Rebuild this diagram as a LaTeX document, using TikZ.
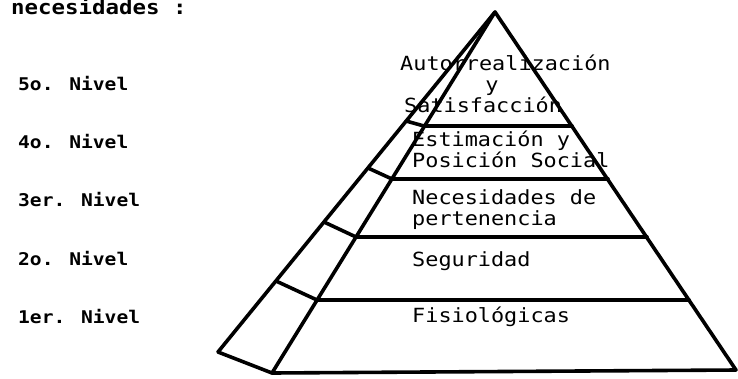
\documentclass[tikz,border=0pt]{standalone}
\usepackage{fontspec}
\newfontfamily\dotfont[FakeStretch=1.12]{DejaVu Sans Mono}
\begin{document}
\begin{tikzpicture}[x=1pt,y=-1pt,
  edge/.style={line width=3.6pt,line join=round,line cap=round},
  level/.style={anchor=mid west,inner sep=0pt,font=\dotfont\bfseries\fontsize{17.5}{20}\selectfont},
  tier/.style={anchor=mid west,inner sep=0pt,font=\dotfont\fontsize{19.5}{22}\selectfont}]
\useasboundingbox (0,0) rectangle (738,378);

% level labels on the left
\node[level,font=\dotfont\bfseries\fontsize{20}{22}\selectfont] (title) at (11,12) {necesidades :};
\node[level] (n5) at (18,88) {5o. Nivel};
\node[level] (n4) at (18,146) {4o. Nivel};
\node[level] (n3) at (18,204) {3er. Nivel};
\node[level] (n2) at (18,263) {2o. Nivel};
\node[level] (n1) at (18,321) {1er. Nivel};

% tier labels inside the pyramid
\node[tier] (t5a) at (400,68) {Autorrealización};
\node[tier,anchor=mid] (t5b) at (492,89) {y};
\node[tier] (t5c) at (404,110) {Satisfacción};
\node[tier] (t4a) at (412,144) {Estimación y};
\node[tier] (t4b) at (412,165) {Posición Social};
\node[tier] (t3a) at (412,202) {Necesidades de};
\node[tier] (t3b) at (412,223) {pertenencia};
\node[tier] (t2) at (412,264) {Seguridad};
\node[tier] (t1) at (412,320) {Fisiológicas};

% pyramid corners
\coordinate (apex) at (495,12);
\coordinate (fl) at (272,373);
\coordinate (bl) at (218,352);
\coordinate (br) at (736,370);
% tier boundaries: front edge, right edge, back edge
\coordinate (f1) at (424,126); \coordinate (r1) at (572,126); \coordinate (b1) at (406,121);
\coordinate (f2) at (392,179); \coordinate (r2) at (608,179); \coordinate (b2) at (368,168);
\coordinate (f3) at (356,237); \coordinate (r3) at (647,237); \coordinate (b3) at (324,222);
\coordinate (f4) at (317,300); \coordinate (r4) at (689,300); \coordinate (b4) at (276,281);

% outline
\draw[edge] (fl) -- (apex) -- (br) -- cycle;
\draw[edge] (bl) -- (apex);
\draw[edge] (bl) -- (fl);
% tier lines on the front face and the side face
\foreach \i in {1,2,3,4} {
  \draw[edge] (f\i) -- (r\i);
  \draw[edge] (b\i) -- (f\i);
}
\end{tikzpicture}
\end{document}
